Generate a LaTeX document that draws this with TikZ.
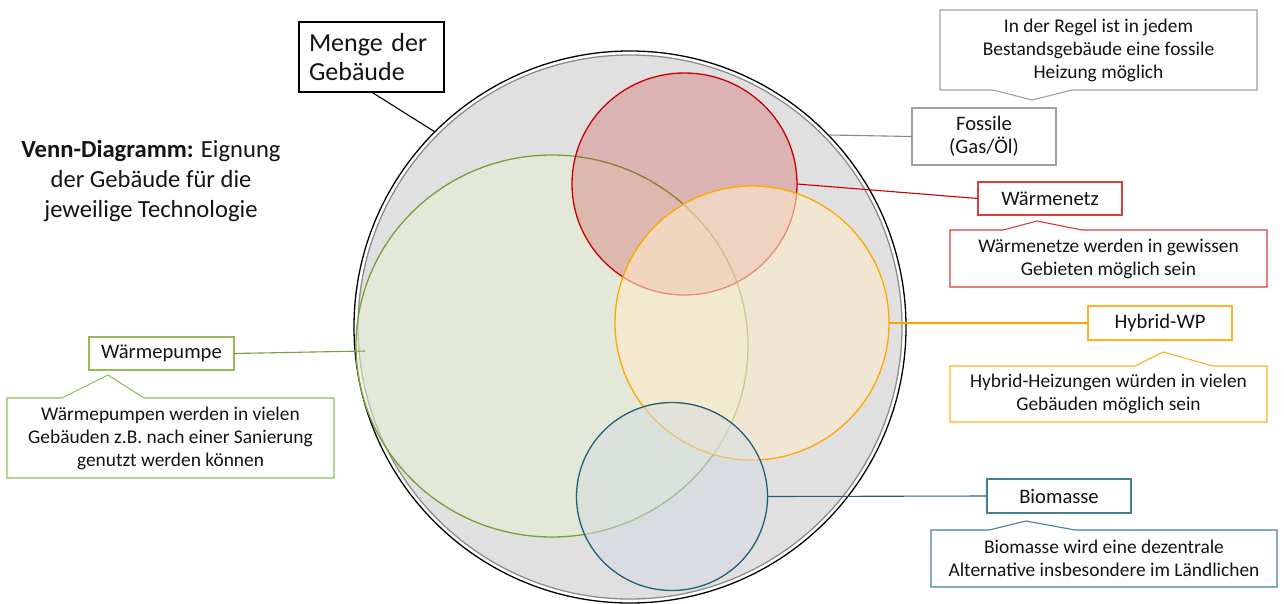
\documentclass[tikz,border=0pt]{standalone}
\usepackage{fontspec}
\setmainfont{Carlito}
\usetikzlibrary{shapes.geometric}
\definecolor{ringgray}{RGB}{140,140,140}
\definecolor{setgray}{RGB}{224,224,224}
\definecolor{grn}{RGB}{118,160,60}
\definecolor{grnfill}{RGB}{230,240,212}
\definecolor{grnbox}{RGB}{146,190,90}
\definecolor{rd}{RGB}{200,0,0}
\definecolor{rdbox}{RGB}{220,60,60}
\definecolor{org}{RGB}{255,166,0}
\definecolor{orgfill}{RGB}{252,234,201}
\definecolor{orgbox}{RGB}{255,178,40}
\definecolor{blu}{RGB}{34,96,122}
\definecolor{blufill}{RGB}{212,220,226}
\definecolor{blubox}{RGB}{70,128,148}
\definecolor{boxgray}{RGB}{160,160,160}
\definecolor{txt}{RGB}{20,20,20}
\begin{document}
\begin{tikzpicture}[x=1pt,y=-1pt,
  venn/.style={ellipse, inner sep=0pt, outer sep=0pt, line width=1.3pt},
  lbl/.style={draw, fill=white, line width=1.1pt, minimum width=144pt, minimum height=34pt,
    inner sep=0pt, outer sep=0pt, font=\fontsize{20.6}{23}\selectfont, align=center, text=txt},
  callout/.style={inner sep=0pt, outer sep=0pt, font=\fontsize{19.4}{23}\selectfont, align=center, text=txt},
  calloutline/.style={line width=1.1pt, line join=miter},
  conn/.style={line width=1.1pt}
]
\useasboundingbox (0,0) rectangle (1284,603);
\fill[white] (0,0) rectangle (1284,603);

% set of buildings
\node[circle, draw=black, line width=1.3pt, minimum size=552pt, inner sep=0pt, outer sep=0pt] (outer) at (630,327) {};
\node[circle, draw=ringgray, fill=setgray, line width=1.3pt, minimum size=544pt, inner sep=0pt, outer sep=0pt] (ring) at (630,327) {};

% technology sets
\node[venn, draw=grn, fill=grnfill, fill opacity=0.5, minimum width=392pt, minimum height=382pt] (green) at (552,346) {};
\node[venn, draw=rd, fill=rd, fill opacity=0.2, minimum width=225pt, minimum height=222pt] (red) at (684.5,184) {};
\node[venn, draw=org, fill=orgfill, fill opacity=0.6, minimum width=274pt, minimum height=274pt] (orange) at (752,323) {};
\node[venn, draw=blu, fill=blufill, fill opacity=0.5, minimum width=191pt, minimum height=188pt] (blue) at (672,496.5) {};

% title
\node[font=\fontsize{24.6}{30}\selectfont, align=center, text=txt, inner sep=0pt] (title) at (151,181)
  {\textbf{Venn-Diagramm:} Eignung\\der Gebäude für die\\jeweilige Technologie};

% label boxes
\node[draw=black, fill=white, line width=1.1pt, minimum width=145pt, minimum height=70pt, inner sep=0pt, outer sep=0pt,
  text width=125pt, align=left, font=\fontsize{26}{29}\selectfont, text=txt] (menge) at (371.5,57) {Menge der\\Gebäude};
\node[lbl, draw=boxgray, minimum height=57pt] (fossil) at (984,136.5) {Fossile\\(Gas/Öl)};
\node[lbl, draw=rdbox, minimum height=33pt] (netz) at (1050,198.5) {Wärmenetz};
\node[lbl, draw=orgbox] (hybrid) at (1160,323) {Hybrid-WP};
\node[lbl, draw=blubox] (bio) at (1059,496) {Biomasse};
\node[lbl, draw=grnbox, minimum width=145pt, minimum height=33pt] (wp) at (161.5,353.5) {Wärmepumpe};

% callouts
\node[callout, minimum width=317pt, minimum height=80pt] (cfossil) at (1098.5,50)
  {In der Regel ist in jedem\\Bestandsgebäude eine fossile\\Heizung möglich};
\node[callout, minimum width=317pt, minimum height=57pt] (cnetz) at (1108.5,258.5)
  {Wärmenetze werden in gewissen\\Gebieten möglich sein};
\node[callout, minimum width=317pt, minimum height=56pt] (chybrid) at (1108.5,394)
  {Hybrid-Heizungen würden in vielen\\Gebäuden möglich sein};
\node[callout, minimum width=346pt, minimum height=57pt] (cbio) at (1104,558.5)
  {Biomasse wird eine dezentrale\\Alternative insbesondere im Ländlichen};
\node[callout, minimum width=327pt, minimum height=80pt] (cwp) at (170.5,438)
  {Wärmepumpen werden in vielen\\Gebäuden z.B. nach einer Sanierung\\genutzt werden können};

\draw[calloutline, draw=boxgray] (cfossil.north west) -- (cfossil.north east) -- (cfossil.south east)
  -- (1072,90) -- (1032,100) -- (993,90) -- (cfossil.south west) -- cycle;
\draw[calloutline, draw=rdbox] (cnetz.north west) -- (1003,230) -- (1037,221) -- (1082,230)
  -- (cnetz.north east) -- (cnetz.south east) -- (cnetz.south west) -- cycle;
\draw[calloutline, draw=orgbox] (chybrid.north west) -- (1135,366) -- (1163,352) -- (1213,366)
  -- (chybrid.north east) -- (chybrid.south east) -- (chybrid.south west) -- cycle;
\draw[calloutline, draw=blubox] (cbio.north west) -- (989,530) -- (1026,521) -- (1075,530)
  -- (cbio.north east) -- (cbio.south east) -- (cbio.south west) -- cycle;
\draw[calloutline, draw=grnbox] (cwp.north west) -- (62,398) -- (108,375) -- (144,398)
  -- (cwp.north east) -- (cwp.south east) -- (cwp.south west) -- cycle;

% connectors
\coordinate (fossilend) at (829,135);
\coordinate (wpend) at (365,351);
\draw[conn, black] (menge.south) -- (outer.135);
\draw[conn, boxgray!85!black] (fossil.west) -- (fossilend);
\draw[conn, rd] (red.east) -- (netz.west);
\draw[conn, org] (orange.east) -- (hybrid.west);
\draw[conn, blu] (blue.east) -- (bio.west);
\draw[conn, grn] (wp.east) -- (wpend);
\end{tikzpicture}
\end{document}
